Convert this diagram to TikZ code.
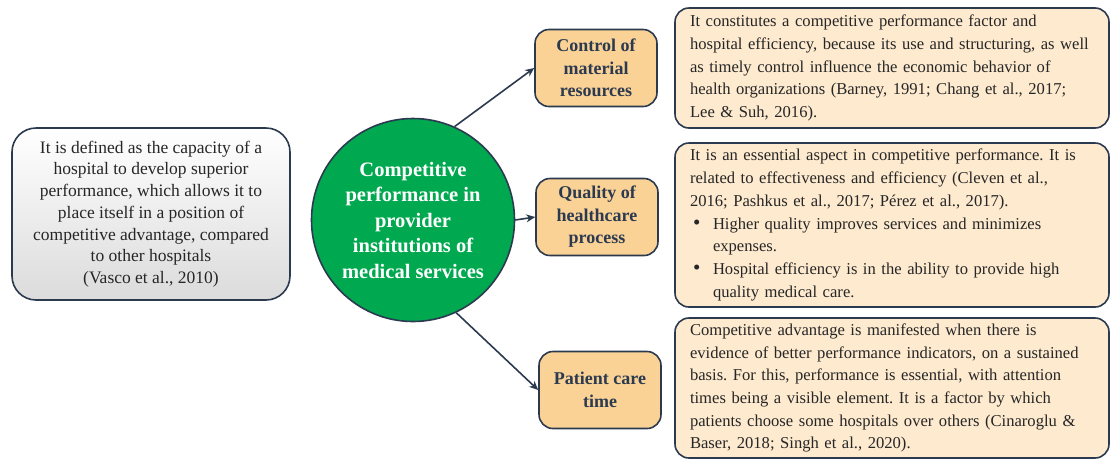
\documentclass[tikz,border=0pt]{standalone}
\usepackage{fontspec}
\setmainfont{Liberation Serif}
\usetikzlibrary{arrows.meta}
\definecolor{navy}{HTML}{2C3A4F}
\definecolor{corefill}{HTML}{00A94F}
\definecolor{factorfill}{HTML}{FAD296}
\definecolor{descfill}{HTML}{FDEACF}
\frenchspacing
\newcommand{\itembullet}{\hspace*{3pt}\makebox[20pt][l]{\fontsize{21}{21}\selectfont\textbullet}}
\begin{document}
\begin{tikzpicture}[x=1pt,y=-1pt,
	box/.style={draw=navy, line width=1.6pt, rounded corners=14pt},
	factor/.style={box, fill=factorfill, minimum width=122pt, minimum height=77pt, text=navy,
		font=\fontsize{18}{22.5}\selectfont\bfseries, align=center},
	desc/.style={box, fill=descfill, minimum width=434pt, text width=404pt, align=left,
		font=\fontsize{16.6}{22.7}\selectfont, text=black!85},
	conn/.style={draw=navy, line width=1.6pt, -{Stealth[length=9pt,width=8pt]}}]
	\useasboundingbox (0,0) rectangle (1110,459);
	% left definition and centre
	\node[box, rounded corners=24pt, top color=white, bottom color=gray!28, minimum width=278pt, minimum height=172pt,
		align=center, font=\fontsize{17.5}{21.7}\selectfont, text=black!85] (def) at (151,214)
		{It is defined as the capacity of a\\hospital to develop superior\\performance, which allows it to\\place itself in a position of\\competitive advantage, compared\\to other hospitals\\(Vasco et al., 2010)};
	\node[circle, draw=navy, line width=1.6pt, fill=corefill, minimum size=203pt, text=white, align=center,
		font=\fontsize{20.5}{25.5}\selectfont\bfseries] (core) at (413,220)
		{Competitive\\performance in\\provider\\institutions of\\medical services};
	% factors
	\node[factor] (ctrl) at (596,68) {Control of\\material\\resources};
	\node[factor] (qual) at (597,217) {Quality of\\healthcare\\process};
	\node[factor] (care) at (600,390) {Patient care\\time};
	% descriptions
	\node[desc, minimum height=120pt] (d1) at (892,68)
		{It constitutes a competitive performance factor and\\\mbox{hospital efficiency, because its use and structuring, as well}\\as timely control influence the economic behavior of\\health organizations (Barney, 1991; Chang et al., 2017;\\Lee \& Suh, 2016).};
	\node[desc, minimum height=164pt] (d2) at (892,225)
		{\mbox{It is an essential aspect in competitive performance. It is}\\related to effectiveness and efficiency (Cleven et al.,\\2016; Pashkus et al., 2017; P\'erez et al., 2017).\\
		\itembullet Higher quality improves services and minimizes\\
		\hspace*{23pt}expenses.\\
		\itembullet Hospital efficiency is in the ability to provide high\\
		\hspace*{23pt}quality medical care.};
	\node[desc, minimum height=140pt] (d3) at (892,388)
		{Competitive advantage is manifested when there is\\\mbox{evidence of better performance indicators, on a sustained}\\basis. For this, performance is essential, with attention\\times being a visible element. It is a factor by which\\patients choose some hospitals over others (Cinaroglu \&\\Baser, 2018; Singh et al., 2020).};
	% connectors
	\draw[conn] (core.66) -- (ctrl.west);
	\draw[conn] (core.east) -- (qual.west);
	\draw[conn] (core.-65) -- (care.west);
\end{tikzpicture}
\end{document}
